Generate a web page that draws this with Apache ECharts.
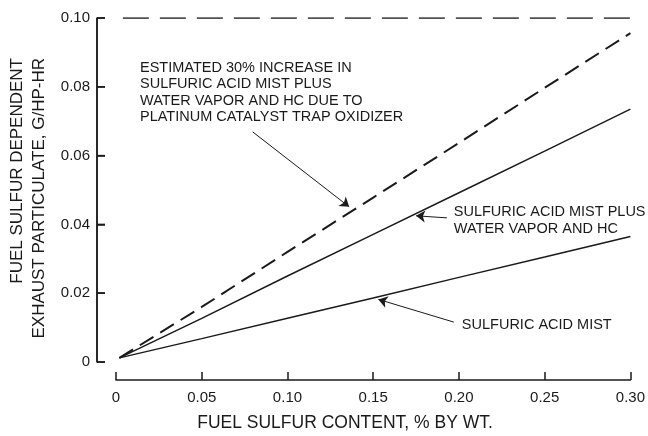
<!DOCTYPE html>
<html>
<head>
<meta charset="utf-8">
<script src="https://cdn.jsdelivr.net/npm/echarts@6/dist/echarts.min.js"></script>
<style>
html, body { margin: 0; padding: 0; background: #fff; }
#main { width: 648px; height: 436px; }
</style>
</head>
<body>
<div id="main"></div>
<script>
// fuel sulfur content, % by wt.
var sulfurContent = [0.002, 0.05, 0.10, 0.15, 0.20, 0.25, 0.30];
// particulate, g/hp-hr
var acidMist = [0.0012, 0.0068, 0.0127, 0.0186, 0.0246, 0.0305, 0.0365];
var mistPlusVapor = [0.0012, 0.0127, 0.0250, 0.0371, 0.0492, 0.0613, 0.0735];
var catalystIncrease = [0.0012, 0.0160, 0.0320, 0.0478, 0.0637, 0.0797, 0.0956];
var topLineX = [0.004, 0.30];
var topLineY = [0.10, 0.10];

var xTicks = ['0', '0.05', '0.10', '0.15', '0.20', '0.25', '0.30'];
var yTicks = ['0', '0.02', '0.04', '0.06', '0.08', '0.10'];

var noteCatalyst = ['ESTIMATED 30% INCREASE IN', 'SULFURIC ACID MIST PLUS',
    'WATER VAPOR AND HC DUE TO', 'PLATINUM CATALYST TRAP OXIDIZER'];
var noteVapor = ['SULFURIC ACID MIST PLUS', 'WATER VAPOR AND HC'];
var noteMist = ['SULFURIC ACID MIST'];

// where the notes and arrows sit, in data units
var noteAnchors = [[0.014, 0.0855], [0.197, 0.0436], [0.2017, 0.0108]];
var arrowFrom = [[0.0797, 0.0669], [0.193, 0.0419], [0.197, 0.0116]];
var arrowTo = [[0.136, 0.0451], [0.175, 0.0425], [0.153, 0.0182]];

var ink = '#1a1a1a';
var font = '"Liberation Sans", Arial, sans-serif';

function pairs(xs, ys) {
    return xs.map(function (x, i) { return [x, ys[i]]; });
}

var myChart = echarts.init(document.getElementById('main'));
var option = {
    animation: false,
    backgroundColor: '#fff',
    textStyle: { fontFamily: font, color: ink },
    // grid 0 holds the data, grid 1 only carries the detached y axis
    grid: [
        { left: 116, right: 16, top: 18, bottom: 74 },
        { left: 97, right: 16, top: 18, bottom: 74 }
    ],
    xAxis: [{
        type: 'value', min: 0, max: 0.30, interval: 0.05, offset: 18,
        axisLine: { onZero: false, lineStyle: { color: ink, width: 1.5 } },
        axisTick: { inside: true, length: 8, lineStyle: { color: ink, width: 1.5 } },
        axisLabel: {
            margin: 10, fontSize: 15, color: ink,
            formatter: function (v) { return xTicks[Math.round(v / 0.05)]; }
        },
        splitLine: { show: false }
    }, {
        gridIndex: 1, type: 'value', min: 0, max: 1,
        axisLine: { show: true, lineStyle: { color: 'rgba(0,0,0,0)' } },
        axisTick: { show: false }, axisLabel: { show: false },
        splitLine: { show: false }
    }],
    yAxis: [{
        type: 'value', min: 0, max: 0.10, interval: 0.02, show: false
    }, {
        gridIndex: 1, type: 'value', min: 0, max: 0.10, interval: 0.02,
        axisLine: { show: true, lineStyle: { color: ink, width: 1.5 } },
        axisTick: { show: true, inside: true, length: 8, lineStyle: { color: ink, width: 1.5 } },
        axisLabel: {
            margin: 7, fontSize: 15, color: ink,
            formatter: function (v) { return yTicks[Math.round(v / 0.02)]; }
        },
        splitLine: { show: false }
    }],
    series: [{
        name: 'SULFURIC ACID MIST',
        type: 'line', showSymbol: false,
        lineStyle: { color: ink, width: 1.5 },
        data: pairs(sulfurContent, acidMist),
        markLine: {
            silent: true, animation: false,
            symbol: ['none', 'arrow'], symbolSize: 9,
            label: { show: false },
            lineStyle: { color: ink, width: 1, type: 'solid' },
            data: arrowFrom.map(function (p, i) {
                return [{ coord: p }, { coord: arrowTo[i] }];
            })
        }
    }, {
        name: 'SULFURIC ACID MIST PLUS WATER VAPOR AND HC',
        type: 'line', showSymbol: false,
        lineStyle: { color: ink, width: 1.5 },
        data: pairs(sulfurContent, mistPlusVapor)
    }, {
        name: 'ESTIMATED 30% INCREASE',
        type: 'line', showSymbol: false,
        lineStyle: { color: ink, width: 2, type: [16, 8] },
        data: pairs(sulfurContent, catalystIncrease)
    }, {
        name: 'top',
        type: 'line', showSymbol: false,
        lineStyle: { color: ink, width: 1.5, type: [26, 11] },
        data: pairs(topLineX, topLineY)
    }, {
        // invisible helper so the detached axis grid is in use
        name: 'axis',
        type: 'line', xAxisIndex: 1, yAxisIndex: 1, showSymbol: false, silent: true,
        lineStyle: { opacity: 0 },
        data: yTicks.map(function (t) { return [0, parseFloat(t)]; })
    }]
};
myChart.setOption(option);

// texts placed through the grid's own scales
var graphics = [];
[noteCatalyst, noteVapor, noteMist].forEach(function (lines, i) {
    var p = myChart.convertToPixel({ gridIndex: 0 }, noteAnchors[i]);
    lines.forEach(function (t, j) {
        graphics.push({
            type: 'text', x: p[0], y: p[1] + j * 16.5,
            style: { text: t, font: '14.5px ' + font, fill: ink,
                     textAlign: 'left', textVerticalAlign: 'middle' }
        });
    });
});
graphics.push({
    type: 'text', x: 17, y: 58, rotation: Math.PI / 2,
    style: { text: 'FUEL SULFUR DEPENDENT', font: '17px ' + font, fill: ink,
             textAlign: 'right', textVerticalAlign: 'middle' }
});
graphics.push({
    type: 'text', x: 39, y: 58, rotation: Math.PI / 2,
    style: { text: 'EXHAUST PARTICULATE, G/HP-HR', font: '17px ' + font, fill: ink,
             textAlign: 'right', textVerticalAlign: 'middle' }
});
graphics.push({
    type: 'text', x: 345, y: 423,
    style: { text: 'FUEL SULFUR CONTENT, % BY WT.', font: '17.5px ' + font, fill: ink,
             textAlign: 'center', textVerticalAlign: 'middle' }
});

// the detached y axis line and its inward ticks, traced through grid 1's scales
try {
    var yBottom = myChart.convertToPixel({ gridIndex: 1 }, [0, 0]);
    var yTop = myChart.convertToPixel({ gridIndex: 1 }, [0, 0.10]);
    if (yBottom && yTop) {
        graphics.push({
            type: 'line', silent: true,
            shape: { x1: yBottom[0], y1: yBottom[1], x2: yTop[0], y2: yTop[1] },
            style: { stroke: ink, lineWidth: 1.5 }
        });
        yTicks.forEach(function (t) {
            var p = myChart.convertToPixel({ gridIndex: 1 }, [0, parseFloat(t)]);
            graphics.push({
                type: 'line', silent: true,
                shape: { x1: p[0], y1: p[1], x2: p[0] + 8, y2: p[1] },
                style: { stroke: ink, lineWidth: 1.5 }
            });
        });
    }
} catch (e) {}

myChart.setOption({ graphic: graphics });
</script>
</body>
</html>
